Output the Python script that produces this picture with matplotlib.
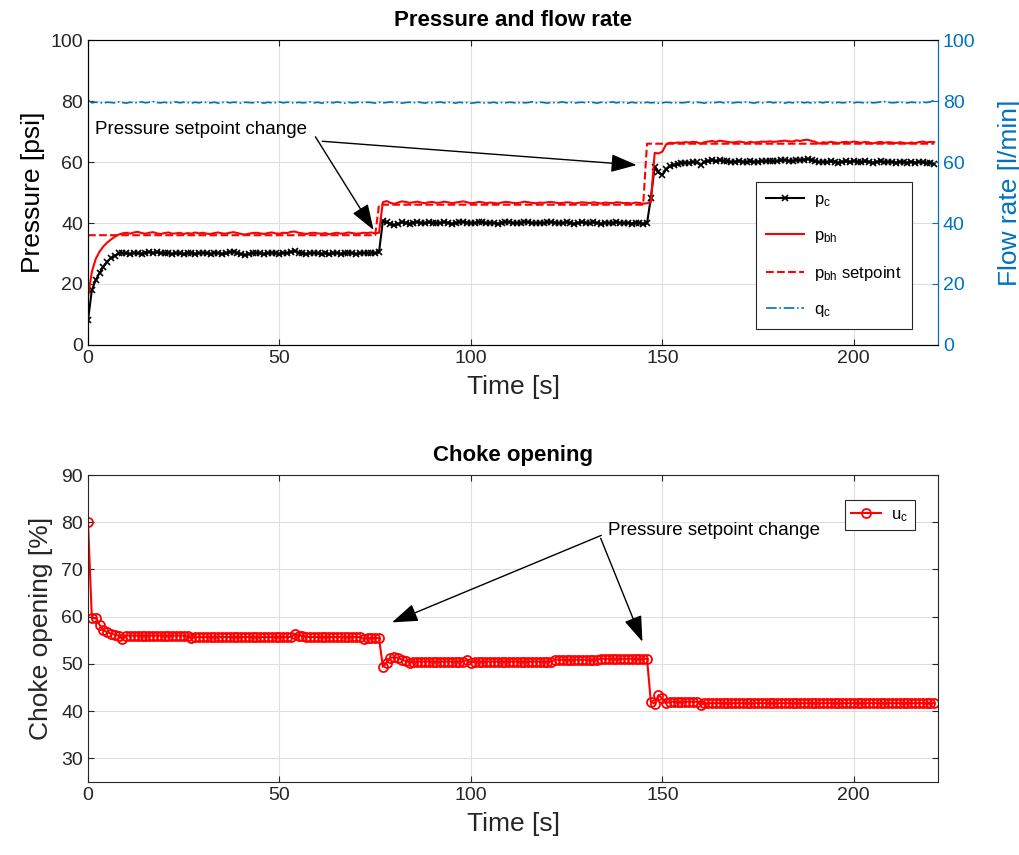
import matplotlib.pyplot as plt
import numpy as np

plt.rcParams['font.family'] = ['Liberation Sans', 'DejaVu Sans']
plt.rcParams['mathtext.default'] = 'regular'

blue = '#0072BD'
dark = '#262626'
gridc = '#dedede'

# sample times [s], one sample per second
t = np.arange(222)

# casing pressure p_c [psi]
p_c = [8.2, 18.0, 21.3, 23.6, 25.7, 27.3, 28.6, 29.3, 30.0, 30.1,
       30.0, 29.8, 30.2, 30.0, 29.9, 30.3, 30.5, 30.2, 30.4, 30.1,
       30.0, 30.3, 29.8, 30.1, 30.0, 29.7, 30.2, 30.0, 29.9, 30.1,
       30.3, 30.0, 29.8, 30.2, 30.1, 29.9, 30.0, 30.4, 30.6, 30.2,
       29.8, 29.5, 29.9, 30.1, 30.2, 30.0, 29.8, 30.1, 30.3, 30.0,
       29.9, 30.2, 30.1, 30.6, 30.8, 30.3, 30.0, 29.8, 30.1, 30.2,
       30.0, 29.9, 30.1, 29.7, 30.0, 30.2, 29.9, 30.0, 30.3, 30.1,
       29.9, 30.0, 30.2, 30.1, 30.3, 30.0, 30.4,
       40.6, 40.3, 39.6,
       39.2, 39.6, 40.2, 40.0, 39.8, 40.1, 40.3, 40.0, 39.9, 40.2,
       40.1, 39.9, 40.0, 40.3, 40.1, 39.8, 40.0, 40.2, 40.4, 40.1,
       39.9, 40.0, 40.3, 40.2, 39.9, 40.1, 40.0, 39.8, 40.1, 40.3,
       40.2, 40.0, 39.9, 40.1, 40.4, 40.2, 40.0, 39.9, 40.1, 40.0,
       40.2, 40.3, 40.1, 39.9, 40.0, 40.2, 40.1, 39.8, 40.0, 40.2,
       40.1, 39.9, 40.2, 40.0, 39.8, 40.1, 40.0, 39.9, 40.2, 40.1,
       39.9, 40.0, 39.8, 40.1, 40.0, 39.7, 39.9,
       48.2, 58.5, 56.6,
       55.8, 57.6, 58.6, 59.0, 59.4, 59.6, 59.8, 59.7, 60.0, 59.9,
       59.0, 60.1, 60.3, 60.5, 60.2, 60.6, 60.4, 60.2, 60.0, 60.1,
       60.3, 60.1, 59.9, 60.2, 60.0, 60.1, 60.3, 60.2, 60.4, 60.2,
       60.3, 60.5, 60.6, 60.4, 60.3, 60.7, 60.5, 60.8, 61.0, 60.6,
       60.2, 60.0, 60.1, 59.9, 60.2, 60.0, 59.8, 60.1, 60.2, 60.0,
       60.3, 60.1, 59.9, 60.2, 60.0, 59.7, 60.0, 60.2, 59.9, 60.1,
       60.0, 59.8, 60.1, 59.9, 59.7, 60.0, 59.8, 60.1, 59.9, 59.6,
       59.8, 59.5]

# bottom hole pressure p_bh [psi]
p_bh = [15.8, 24.0, 28.2, 30.6, 32.3, 33.6, 34.6, 35.5, 36.2, 36.6,
        36.8, 36.5, 36.9, 37.1, 36.7, 36.5, 36.8, 37.0, 36.6, 36.4,
        36.7, 36.9, 36.5, 36.6, 36.8, 36.4, 36.7, 36.5, 36.9, 36.6,
        36.8, 36.5, 36.4, 36.7, 36.9, 36.6, 36.5, 36.8, 37.0, 36.7,
        36.4, 36.2, 36.5, 36.7, 36.8, 36.6, 36.4, 36.7, 36.9, 36.6,
        36.5, 36.8, 36.7, 37.1, 37.2, 36.8, 36.6, 36.4, 36.7, 36.8,
        36.6, 36.5, 36.7, 36.3, 36.6, 36.8, 36.5, 36.6, 36.9, 36.7,
        36.5, 36.6, 36.8, 36.7, 36.9, 36.6, 36.8,
        46.8, 47.2, 46.6,
        46.3, 46.7, 47.1, 46.9, 46.6, 46.8, 47.0, 46.7, 46.5, 46.8,
        46.9, 46.6, 46.7, 47.0, 46.8, 46.5, 46.7, 46.9, 47.1, 46.8,
        46.5, 46.6, 46.9, 46.8, 46.5, 46.7, 46.6, 46.4, 46.7, 46.9,
        46.8, 46.6, 46.5, 46.7, 47.0, 46.8, 46.6, 46.5, 46.7, 46.6,
        46.8, 46.9, 46.7, 46.5, 46.6, 46.8, 46.7, 46.4, 46.6, 46.8,
        46.7, 46.5, 46.8, 46.6, 46.4, 46.7, 46.6, 46.5, 46.8, 46.7,
        46.5, 46.6, 46.4, 46.7, 46.6, 46.3, 46.5,
        46.8, 63.0, 62.8,
        63.4, 65.8, 66.3, 66.2, 66.4, 66.3, 66.5, 66.4, 66.6, 66.5,
        66.0, 66.5, 66.7, 66.9, 66.6, 67.0, 66.8, 66.6, 66.4, 66.5,
        66.7, 66.5, 66.3, 66.6, 66.4, 66.5, 66.7, 66.6, 66.8, 66.6,
        66.7, 66.9, 67.0, 66.8, 66.7, 67.1, 66.9, 67.2, 67.3, 66.9,
        66.6, 66.0, 66.5, 66.3, 66.6, 66.4, 66.2, 66.5, 66.6, 66.4,
        66.7, 66.5, 66.3, 66.6, 66.4, 66.1, 66.4, 66.6, 66.3, 66.5,
        66.4, 66.2, 66.5, 66.3, 66.1, 66.4, 66.2, 66.5, 66.7, 66.4,
        66.6, 66.5]

# p_bh setpoint [psi], step changes
p_sp = [36.0] * 76 + [46.0] * 70 + [66.0] * 76

# flow rate q_c [l/min]
q_c = [80.3, 79.4, 79.6, 79.5, 79.3, 79.6, 79.5, 79.4, 79.7, 79.5,
       79.3, 79.6, 79.4, 79.5, 79.7, 79.4, 79.6, 79.8, 79.5, 79.4,
       79.6, 79.3, 79.5, 79.7, 79.4, 79.6, 79.5, 79.3, 79.6, 79.4,
       79.7, 79.5, 79.4, 79.6, 79.3, 79.5, 79.7, 79.4, 79.6, 79.5,
       79.3, 79.6, 79.5, 79.4, 79.7, 79.5, 79.3, 79.6, 79.4, 79.5,
       79.7, 79.4, 79.6, 79.5, 79.3, 79.6, 79.4, 79.5, 79.7, 79.4,
       79.6, 79.3, 79.5, 79.6, 79.4, 79.7, 79.5, 79.3, 79.6, 79.4,
       79.5, 79.7, 79.4, 79.6, 79.5, 79.3, 79.6, 79.4, 79.5, 79.7,
       79.4, 79.6, 79.3, 79.5, 79.6, 79.4, 79.7, 79.5, 79.3, 79.6,
       79.4, 79.5, 79.7, 79.4, 79.6, 79.5, 79.3, 79.6, 79.4, 79.5,
       79.3, 79.4, 79.6, 79.3, 79.5, 79.4, 79.6, 79.3, 79.5, 79.4,
       79.6, 79.5, 79.3, 79.6, 79.4, 79.5, 79.7, 79.4, 79.6, 79.5,
       79.3, 79.6, 79.4, 79.5, 79.7, 79.4, 79.6, 79.3, 79.5, 79.6,
       79.4, 79.7, 79.5, 79.3, 79.6, 79.4, 79.5, 79.7, 79.4, 79.6,
       79.5, 79.3, 79.6, 79.4, 79.5, 79.3, 79.6, 79.4, 79.5, 79.3,
       79.4, 79.6, 79.5, 79.3, 79.6, 79.4, 79.5, 79.7, 79.4, 79.6,
       79.5, 79.3, 79.6, 79.4, 79.5, 79.7, 79.4, 79.6, 79.3, 79.5,
       79.6, 79.4, 79.7, 79.5, 79.3, 79.6, 79.4, 79.5, 79.7, 79.4,
       79.6, 79.5, 79.3, 79.6, 79.4, 79.5, 79.7, 79.4, 79.6, 79.3,
       79.5, 79.6, 79.4, 79.7, 79.5, 79.3, 79.6, 79.4, 79.5, 79.7,
       79.4, 79.6, 79.5, 79.3, 79.6, 79.4, 79.5, 79.7, 79.8, 79.6,
       79.4, 79.5, 79.7, 79.5, 79.4, 79.6, 79.5, 79.4, 79.6, 79.5,
       79.7, 80.3]

# choke opening u_c [%]
u_c = ([80.0, 59.7, 59.7, 58.3, 57.2, 56.7, 56.4, 56.2, 56.0, 55.2]
       + [56.0] * 17 + [55.4] + [55.7] * 26 + [56.3] + [56.0] * 2
       + [55.7] * 15 + [55.3] + [55.5] * 4
       + [49.4, 50.3, 51.3, 51.4, 51.3, 50.9, 50.6, 50.3]
       + [50.5] * 14 + [50.9, 50.2] + [50.5] * 21 + [50.9] * 12 + [51.1] * 13
       + [42.0, 41.6, 43.4, 42.7, 41.7] + [42.0] * 8 + [41.4] + [41.7] * 61)

txt = 'Pressure setpoint change'


def style_axes(ax):
    ax.grid(True, color=gridc, linewidth=0.8)
    ax.set_axisbelow(True)
    ax.tick_params(direction='in', length=4, labelsize=14, colors=dark, top=True)
    for s in ax.spines.values():
        s.set_color(dark)
        s.set_linewidth(0.8)


fig = plt.figure(figsize=(10.2, 8.55), dpi=100)

# top: pressure and flow rate
ax = fig.add_axes([0.0863, 0.5965, 0.8333, 0.3567])
l1, = ax.plot(t, p_c, '-x', color='k', lw=1.5, ms=4.5, mew=1.2, label='p$_c$')
l2, = ax.plot(t, p_bh, '-', color='#ff0000', lw=1.5, label='p$_{bh}$')
l3, = ax.plot(t, p_sp, '--', color='#ff0000', lw=1.5, label='p$_{bh}$ setpoint')
ax.set_xlim(0, 222)
ax.set_ylim(0, 100)
ax.set_xticks([0, 50, 100, 150, 200])
ax.set_yticks(np.arange(0, 101, 20))
style_axes(ax)
ax.tick_params(right=False)
ax.set_xlabel('Time [s]', fontsize=19, color=dark, labelpad=6)
ax.set_ylabel('Pressure [psi]', fontsize=19, color='k', labelpad=4)
ax.set_title('Pressure and flow rate', fontsize=16, fontweight='bold', pad=10)

ax2 = ax.twinx()
l4, = ax2.plot(t, q_c, '-.', color=blue, lw=1.2, label='q$_c$')
ax2.set_ylim(0, 100)
ax2.set_yticks(np.arange(0, 101, 20))
ax2.tick_params(direction='in', length=4, labelsize=14, colors=blue)
ax2.spines['right'].set_color(blue)
ax2.set_ylabel('Flow rate [l/min]', fontsize=19, color=blue, labelpad=16)

leg = ax2.legend(handles=[l1, l2, l3, l4], loc='lower right',
                 bbox_to_anchor=(0.969, 0.052), borderaxespad=0, fontsize=12,
                 fancybox=False, framealpha=1, edgecolor=dark,
                 handlelength=2.3, labelspacing=1.15, borderpad=0.6,
                 handletextpad=0.6)
leg.get_frame().set_linewidth(0.8)

arrow = dict(arrowstyle='-|>,head_length=1.0,head_width=0.35', color='k',
             lw=1, mutation_scale=16, shrinkA=0, shrinkB=0)
ax2.annotate(txt, xy=(74.6, 37.7), xytext=(1.8, 70.5), fontsize=13.5,
             va='center', ha='left', arrowprops=dict(arrow, relpos=(1.04, 0.1)))
ax2.annotate('', xy=(143.3, 59.0), xytext=(61.2, 66.8), arrowprops=arrow)

# bottom: choke opening
bx = fig.add_axes([0.0863, 0.0854, 0.8333, 0.359])
bx.plot(t, u_c, '-o', color='#ff0000', lw=1.5, ms=6.5, mew=1.3,
        mfc='none', label='u$_c$')
bx.set_xlim(0, 222)
bx.set_ylim(25, 90)
bx.set_xticks([0, 50, 100, 150, 200])
bx.set_yticks(np.arange(30, 91, 10))
style_axes(bx)
bx.tick_params(right=True)
bx.set_xlabel('Time [s]', fontsize=19, color=dark, labelpad=6)
bx.set_ylabel('Choke opening [%]', fontsize=19, color=dark, labelpad=6)
bx.set_title('Choke opening', fontsize=16, fontweight='bold', pad=10)
leg2 = bx.legend(loc='upper right', bbox_to_anchor=(0.973, 0.918),
                 borderaxespad=0, fontsize=12, fancybox=False, framealpha=1,
                 edgecolor=dark, handlelength=1.8, borderpad=0.4,
                 handletextpad=0.6)
leg2.get_frame().set_linewidth(0.8)

bx.annotate(txt, xy=(79.4, 58.8), xytext=(135.7, 78.3), fontsize=13.5,
            va='center', ha='left', arrowprops=dict(arrow, relpos=(-0.03, 0.2)))
bx.annotate('', xy=(144.8, 54.7), xytext=(133.9, 76.6), arrowprops=arrow)

plt.savefig('out.png', dpi=100)
